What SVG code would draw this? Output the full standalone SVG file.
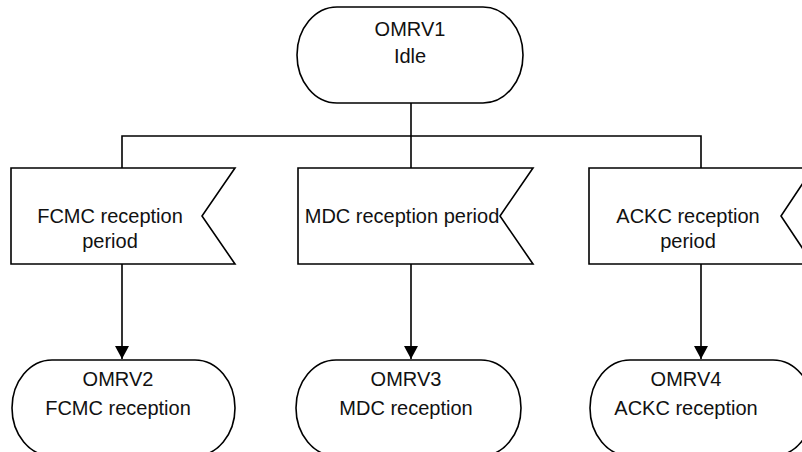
<svg xmlns="http://www.w3.org/2000/svg" width="802" height="452" viewBox="0 0 802 452">
<style>
.s{fill:#fff;stroke:#000;stroke-width:1.6}
.c{fill:none;stroke:#000;stroke-width:1.6}
text{font-family:"Liberation Sans",Arial,sans-serif;font-size:20px;fill:#111;text-anchor:middle}
</style>
<defs>
<marker id="ah" markerWidth="14" markerHeight="14" refX="13" refY="7" orient="auto" markerUnits="userSpaceOnUse">
<path d="M0,0 L13,7 L0,14 Z" fill="#000"/>
</marker>
</defs>
<rect width="802" height="452" fill="#fff"/>
<g id="connectors">
<path class="c" d="M411,103 V136"/>
<path class="c" d="M122,168 V136 H701 V168"/>
<path class="c" d="M411,136 V168"/>
<path class="c" d="M122,264 V359" marker-end="url(#ah)"/>
<path class="c" d="M411,264 V359" marker-end="url(#ah)"/>
<path class="c" d="M701,264 V359" marker-end="url(#ah)"/>
</g>
<g id="omrv1">
<path class="s" d="M337,7 H483 A40,48 0 0 1 483,103 H337 A40,48 0 0 1 337,7 Z"/>
<text x="410" y="36">OMRV1</text>
<text x="410" y="63">Idle</text>
</g>
<g id="fcmc_period">
<path class="s" d="M11,168 H235 L202,216 L235,264 H11 Z"/>
<text x="110" y="223">FCMC reception</text>
<text x="110" y="248">period</text>
</g>
<g id="mdc_period">
<path class="s" d="M298,168 H533 L500,216 L533,264 H298 Z"/>
<text x="402" y="223">MDC reception period</text>
</g>
<g id="ackc_period">
<path class="s" d="M589,168 H813 L781,216 L813,264 H589 Z"/>
<text x="688" y="223">ACKC reception</text>
<text x="688" y="248">period</text>
</g>
<g id="omrv2">
<path class="s" d="M52,360 H195 A40,48 0 0 1 195,456 H52 A40,48 0 0 1 52,360 Z"/>
<text x="118" y="386">OMRV2</text>
<text x="118" y="415">FCMC reception</text>
</g>
<g id="omrv3">
<path class="s" d="M336,360 H481 A40,48 0 0 1 481,456 H336 A40,48 0 0 1 336,360 Z"/>
<text x="406" y="386">OMRV3</text>
<text x="406" y="415">MDC reception</text>
</g>
<g id="omrv4">
<path class="s" d="M630,360 H773 A40,48 0 0 1 773,456 H630 A40,48 0 0 1 630,360 Z"/>
<text x="686" y="386">OMRV4</text>
<text x="686" y="415">ACKC reception</text>
</g>
</svg>
